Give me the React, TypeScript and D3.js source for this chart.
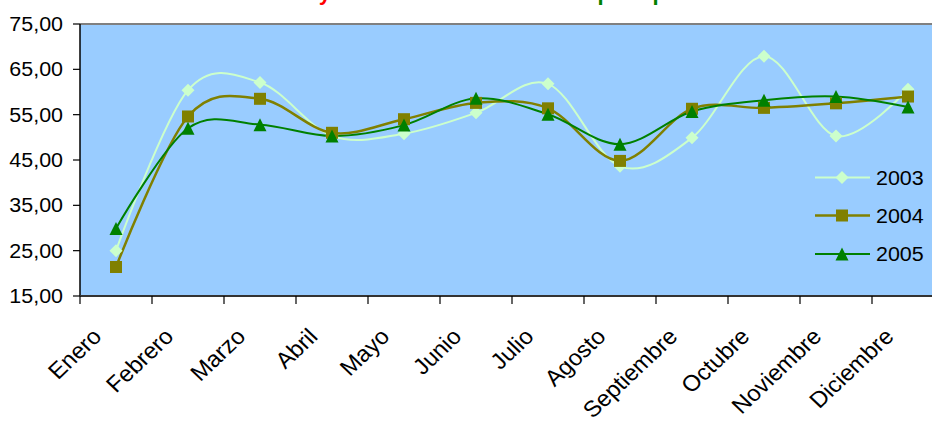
import React from "react";
import * as d3 from "d3";

const months = ["Enero", "Febrero", "Marzo", "Abril", "Mayo", "Junio", "Julio", "Agosto", "Septiembre", "Octubre", "Noviembre", "Diciembre"];
const s2003 = [25.0, 60.4, 62.1, 50.3, 50.8, 55.4, 61.8, 43.6, 49.9, 67.9, 50.3, 60.6];
const s2004 = [21.4, 54.6, 58.5, 51.0, 54.0, 57.6, 56.4, 44.8, 56.3, 56.5, 57.5, 59.0];
const s2005 = [29.9, 52.0, 52.8, 50.3, 52.7, 58.6, 55.1, 48.5, 55.7, 58.2, 59.0, 56.7];
const yTicks = [15, 25, 35, 45, 55, 65, 75];
const seriesNames = ["2003", "2004", "2005"];

const W = 932, H = 423;
const FONT = "'Liberation Sans', Arial, sans-serif";
const SX = 1.1;

const series = [
  { name: seriesNames[0], values: s2003, color: "#CCFFCC", width: 2, marker: "diamond" },
  { name: seriesNames[1], values: s2004, color: "#808000", width: 2.5, marker: "square" },
  { name: seriesNames[2], values: s2005, color: "#008000", width: 2, marker: "triangle" },
];

function Marker({ type, x, y, color }: { type: string; x: number; y: number; color: string }) {
  if (type === "diamond") {
    const r = 6.5;
    return <path d={`M${x},${y - r}L${x + r},${y}L${x},${y + r}L${x - r},${y}Z`} fill={color} />;
  }
  if (type === "square") {
    const r = 6;
    return <rect x={x - r} y={y - r} width={2 * r} height={2 * r} fill={color} />;
  }
  const r = 6.5;
  return <path d={`M${x},${y - r}L${x + r},${y + r}L${x - r},${y + r}Z`} fill={color} />;
}

export default function App() {
  const x = d3.scaleBand<string>().domain(months).range([80, 944]);
  const y = d3.scaleLinear().domain([15, 75]).range([296, 24]);
  const cx = (m: string) => (x(m) as number) + x.bandwidth() / 2;
  const line = d3
    .line<number>()
    .x((_, i) => cx(months[i]))
    .y((v) => y(v))
    .curve(d3.curveCardinal.tension(0));
  const boundaries = months.map((m) => x(m) as number).concat([944]);
  const legendY = [177.5, 215.5, 254];

  return (
    <svg width={W} height={H} style={{ position: "absolute", left: 0, top: 0, background: "#fff" }} fontFamily={FONT}>
      {/* title (mostly cut off at top) */}
      <text y={0} fontSize={22} fontWeight="bold">
        <tspan x={331} textAnchor="end" fill="#FF0000">Estancia media y</tspan>
      </text>
      <text x={397} y={0} fontSize={22} fontWeight="bold" fill="#008000">turistas en hoteles por tipo</text>

      {/* plot area */}
      <rect x={80} y={24} width={864} height={272} fill="#99CCFF" />
      <line x1={80} x2={944} y1={24} y2={24} stroke="#808080" strokeWidth={2} />

      {series.map((s) => (
        <path key={s.name} d={line(s.values) || ""} fill="none" stroke={s.color} strokeWidth={s.width} />
      ))}
      {series.map((s) =>
        s.values.map((v, i) => <Marker key={s.name + i} type={s.marker} x={cx(months[i])} y={y(v)} color={s.color} />)
      )}

      {/* axes */}
      <line x1={80} x2={80} y1={24} y2={296} stroke="#000" strokeWidth={1.5} />
      <line x1={80} x2={944} y1={296} y2={296} stroke="#333" strokeWidth={2} />
      {yTicks.map((t) => (
        <g key={t}>
          <line x1={73} x2={80} y1={y(t)} y2={y(t)} stroke="#000" strokeWidth={1.2} />
          <text transform={`translate(63,${y(t) + 7}) scale(${SX},1)`} textAnchor="end" fontSize={19.5} fill="#000">
            {d3.format(".2f")(t).replace(".", ",")}
          </text>
        </g>
      ))}
      {boundaries.map((b, i) => (
        <line key={i} x1={b} x2={b} y1={296} y2={304} stroke="#000" strokeWidth={1.2} />
      ))}
      {months.map((m) => (
        <text key={m} transform={`translate(${cx(m) - 13},338) scale(1.06,1) rotate(-45)`} textAnchor="end" fontSize={22.5} fill="#000">
          {m}
        </text>
      ))}

      {/* legend */}
      {series.map((s, i) => (
        <g key={s.name}>
          <line x1={815} x2={870} y1={legendY[i]} y2={legendY[i]} stroke={s.color} strokeWidth={s.width} />
          <Marker type={s.marker} x={842} y={legendY[i]} color={s.color} />
          <text transform={`translate(876,${legendY[i] + 7}) scale(${SX},1)`} fontSize={19.5} fill="#000">
            {s.name}
          </text>
        </g>
      ))}
    </svg>
  );
}
